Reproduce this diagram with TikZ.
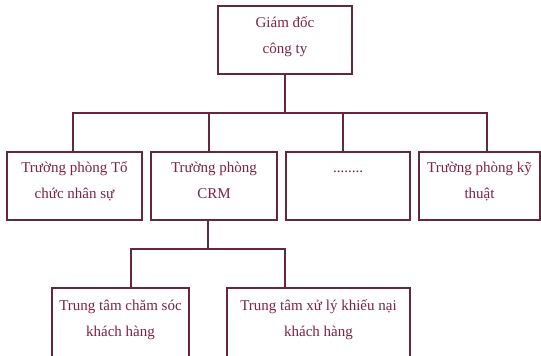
\documentclass[tikz,border=0pt]{standalone}
\usepackage{fontspec}
\setmainfont{Liberation Serif}
\usetikzlibrary{calc}
\definecolor{txtc}{RGB}{125,35,65}
\definecolor{linec}{RGB}{100,40,60}
\newcommand{\boxtxt}[4]{\parbox[c][#2][t]{#1}{\centering\fontsize{15pt}{26pt}\selectfont\color{txtc}\rule{0pt}{#3}#4}}
\tikzset{
  orgbox/.style={draw=linec, line width=1.2pt, rectangle, inner sep=0pt, outer sep=0pt},
  conn/.style={draw=linec, line width=1.2pt}
}
\begin{document}
\begin{tikzpicture}[x=1pt,y=-1pt]
\useasboundingbox (0,0) rectangle (541,356);
\fill[white] (0,0) rectangle (541,356);
% top
\node[orgbox] (gd) at (285,40) {\boxtxt{134pt}{68pt}{21pt}{Giám đốc\\công ty}};
% level 2
\node[orgbox] (tc) at (74.5,186) {\boxtxt{135pt}{68pt}{20pt}{Trường phòng Tổ\\chức nhân sự}};
\node[orgbox] (crm) at (214,186) {\boxtxt{126pt}{68pt}{20pt}{Trường phòng\\CRM}};
\node[orgbox] (dots) at (348,186) {\boxtxt{124pt}{68pt}{20pt}{........}};
\node[orgbox] (kt) at (479.5,186) {\boxtxt{121pt}{68pt}{20pt}{Trường phòng kỹ\\thuật}};
% level 3
\node[orgbox] (cs) at (120.5,334) {\boxtxt{137pt}{92pt}{22pt}{Trung tâm chăm sóc\\khách hàng}};
\node[orgbox] (xl) at (318.5,334) {\boxtxt{183pt}{92pt}{22pt}{Trung tâm xử lý khiếu nại\\khách hàng}};
% connectors level 1
\draw[conn] (gd.south) -- ++(0,39) coordinate (bus1);
\draw[conn] (bus1) -| ($(tc.north)+(-1.5,0)$);
\draw[conn] (bus1) -| ($(crm.north)+(-5,0)$);
\draw[conn] (bus1) -| ($(dots.north)+(-5,0)$);
\draw[conn] (bus1) -| ($(kt.north)+(7.5,0)$);
% connectors level 2
\draw[conn] ($(crm.south)+(-6,0)$) -- ++(0,29) coordinate (bus2);
\draw[conn] (bus2) -| ($(cs.north)+(10.5,0)$);
\draw[conn] (bus2) -| ($(xl.north)+(-33.5,0)$);
\end{tikzpicture}
\end{document}
